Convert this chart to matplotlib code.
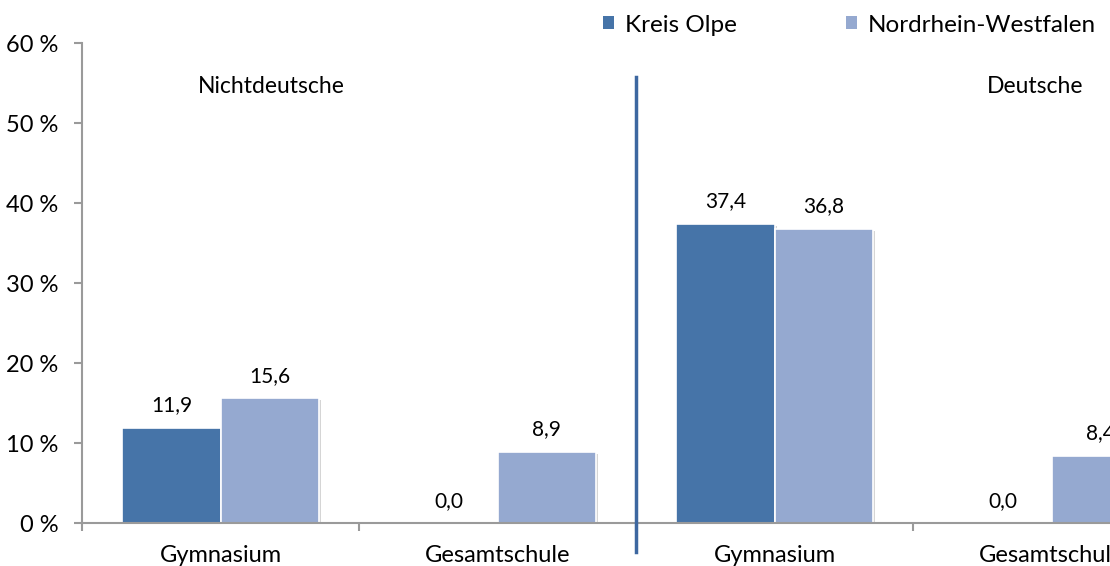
import matplotlib
matplotlib.use("Agg")
import matplotlib.pyplot as plt
import matplotlib.patheffects as pe
from matplotlib.patches import Patch
import numpy as np

plt.rcParams['font.family'] = ['Lato', 'DejaVu Sans']

categories = ["Gymnasium", "Gesamtschule", "Gymnasium", "Gesamtschule"]
series_names = ["Kreis Olpe", "Nordrhein-Westfalen"]
kreis_olpe = [11.9, 0.0, 37.4, 0.0]
nrw = [15.6, 8.9, 36.8, 8.4]
group_labels = ["Nichtdeutsche", "Deutsche"]
y_ticks = [0, 10, 20, 30, 40, 50, 60]

c_dark = "#4674A8"
c_light = "#95A9D0"
c_div = "#3D67A0"
c_axis = "#9A9A9A"

W, H = 1110, 566
fig = plt.figure(figsize=(W / 100, H / 100), dpi=100)
ax = fig.add_axes([82 / W, 43 / H, (4 * 277) / W, (523 - 43) / H])

x = np.arange(len(categories))
bw = 0.354
shadow = [pe.SimplePatchShadow(offset=(1.5, -1.5), shadow_rgbFace="#888888", alpha=0.35), pe.Normal()]
b1 = ax.bar(x - bw / 2, kreis_olpe, bw, color=c_dark, edgecolor="white", linewidth=1.2, zorder=3)
b2 = ax.bar(x + bw / 2, nrw, bw, color=c_light, edgecolor="white", linewidth=1.2, zorder=3)
for bars in (b1, b2):
    for r in bars:
        if r.get_height() > 0:
            r.set_path_effects(shadow)
        else:
            r.set_linewidth(0)

for bars, vals in ((b1, kreis_olpe), (b2, nrw)):
    for r, v in zip(bars, vals):
        ax.annotate(f"{v:.1f}".replace(".", ","),
                    (r.get_x() + r.get_width() / 2, v),
                    xytext=(0, 16), textcoords="offset points",
                    ha="center", va="center", fontsize=15, color="#000000")

ax.set_xlim(-0.5, 3.5)
ax.set_ylim(0, 60)
ax.set_yticks(y_ticks)
ax.set_yticklabels([f"{t} %" for t in y_ticks], fontsize=17)
ax.set_xticks(x)
ax.set_xticklabels(categories, fontsize=17)
ax.set_xticks(np.arange(-0.5, 4.0, 1.0), minor=True)
ax.tick_params(axis="x", which="major", length=0, pad=16)
ax.tick_params(axis="x", which="minor", length=6, color=c_axis, width=1.5)
ax.tick_params(axis="y", length=6, color=c_axis, width=1.5, pad=11)

for s in ("top", "right"):
    ax.spines[s].set_visible(False)
for s in ("left", "bottom"):
    ax.spines[s].set_color(c_axis)
    ax.spines[s].set_linewidth(1.5)
    ax.spines[s].set_zorder(5)

# divider between groups
ax.plot([1.5, 1.5], [55.75, -3.6], color=c_div, linewidth=2.5, clip_on=False, zorder=6)

ax.text(0.182, 54.6, group_labels[0], ha="center", va="center", fontsize=16.5)
ax.text(3.114, 54.6, group_labels[1], ha="right", va="center", fontsize=16.5)

handles = [Patch(facecolor=c_dark), Patch(facecolor=c_light)]
fig.legend(handles, series_names, loc="center left", bbox_to_anchor=(603 / W, 1 - 25 / H),
           ncol=2, frameon=False, fontsize=17.5, handlelength=0.45, handleheight=0.45,
           handletextpad=0.45, columnspacing=4.5, borderaxespad=0, borderpad=0)

fig.savefig("out.png", dpi=100)
